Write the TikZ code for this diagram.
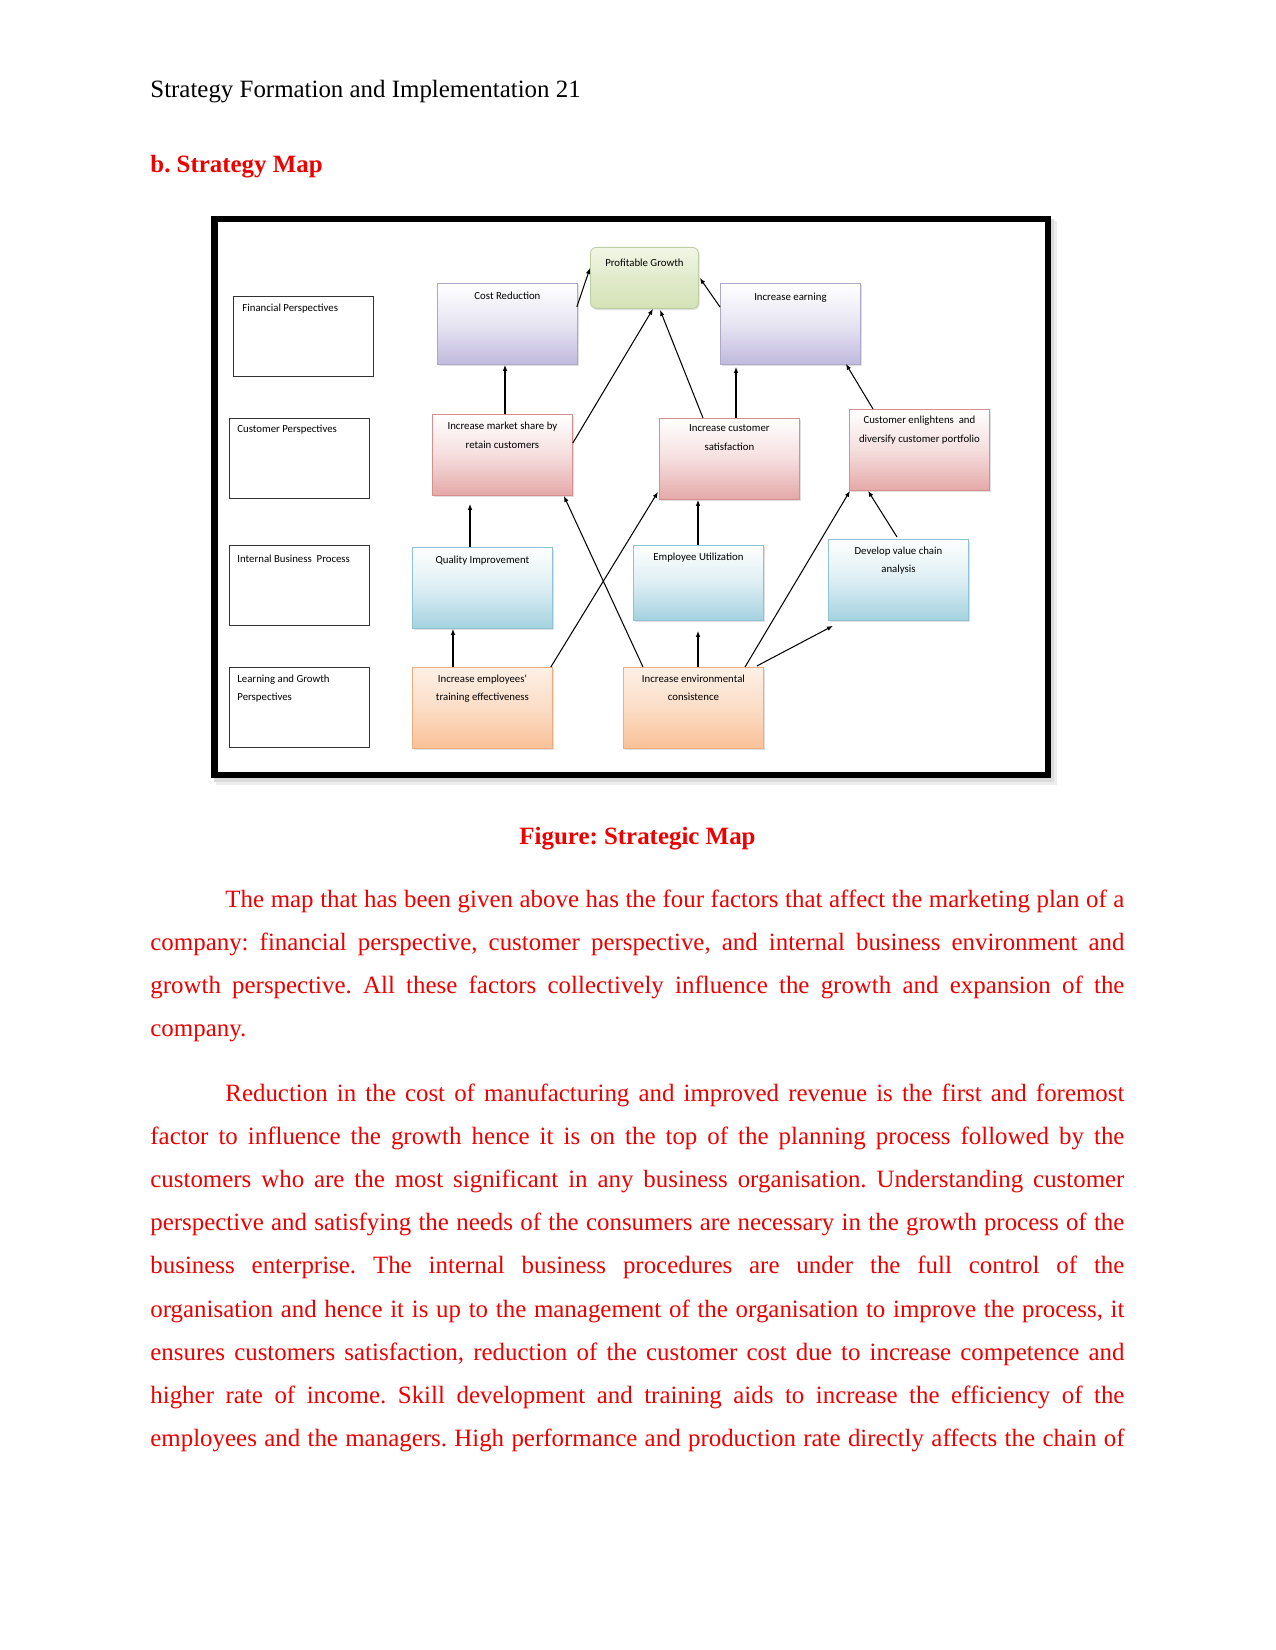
\documentclass[tikz,border=0pt]{standalone}
\usepackage{fontspec}
\setmainfont{Liberation Serif}
\newfontfamily\boxfont{Carlito}
\usepackage{xcolor}
\usetikzlibrary{arrows.meta, positioning, calc, shadows}
\frenchspacing
\definecolor{docred}{RGB}{236,0,0}
\definecolor{finbot}{RGB}{192,185,221}
\definecolor{finedge}{RGB}{172,168,200}
\definecolor{cusbot}{RGB}{229,168,168}
\definecolor{cusedge}{RGB}{214,142,142}
\definecolor{ibpbot}{RGB}{164,210,224}
\definecolor{ibpedge}{RGB}{140,196,212}
\definecolor{lgtop}{RGB}{253,240,230}
\definecolor{lgbot}{RGB}{249,193,152}
\definecolor{lgedge}{RGB}{240,172,124}
\definecolor{pgtop}{RGB}{242,246,230}
\definecolor{pgbot}{RGB}{212,226,182}
\definecolor{pgedge}{RGB}{190,205,162}
\newdimen\pxu \pxu=0.4818pt
\newcommand{\twol}[2]{\parbox[t]{150\pxu}{\centering #1\\#2}}
\newcommand{\twoll}[2]{\parbox[t]{130\pxu}{\raggedright #1\\#2}}
\newcommand{\jline}[2]{\makebox[#1][s]{#2}}
\tikzset{
  persp/.style={rectangle, draw=black!80, line width=0.6pt, fill=white,
    minimum width=140\pxu, minimum height=80\pxu, anchor=north west, inner sep=0pt},
  mapbox/.style={rectangle, line width=0.4pt, minimum width=140\pxu,
    minimum height=81\pxu, anchor=north west, inner sep=0pt,
    drop shadow={shadow xshift=1.2\pxu, shadow yshift=-1.6\pxu, opacity=0.25}},
  finB/.style={mapbox, draw=finedge, top color=white, bottom color=finbot, middle color=finbot!38},
  cusB/.style={mapbox, draw=cusedge, top color=white, bottom color=cusbot, middle color=cusbot!38},
  ibpB/.style={mapbox, draw=ibpedge, top color=white, bottom color=ibpbot, middle color=ibpbot!38},
  lgB/.style={mapbox, draw=lgedge, top color=lgtop, bottom color=lgbot, middle color=lgbot!55},
  pgB/.style={mapbox, draw=pgedge, top color=pgtop, bottom color=pgbot, middle color=pgbot!70,
    rounded corners=6\pxu, minimum width=108\pxu, minimum height=61\pxu},
  btxt/.style={anchor=base, inner sep=0pt, text=black,
    font=\boxfont\fontsize{5.2}{8.8}\selectfont},
  ptxt/.style={btxt, anchor=base west},
  arr/.style={-{Latex[length=2.9pt, width=2.2pt]}, line width=0.5pt},
  pagetxt/.style={anchor=base west, inner sep=0pt, font=\fontsize{12}{14}\selectfont},
  redbold/.style={inner sep=0pt, text=docred, font=\fontsize{12}{14}\selectfont\bfseries},
  bodyline/.style={pagetxt, text=docred},
}
\begin{document}
\begin{tikzpicture}[x=1\pxu, y=-1\pxu]
  \fill[white] (0,0) rectangle (1275,1650);
  \useasboundingbox (0,0) rectangle (1275,1650);

  % ---- Page heading ----
  \node[pagetxt] (head) at (150,98) {Strategy Formation and Implementation 21};
  \node[redbold, anchor=base west] (sect) at (150,173) {b. Strategy Map};

  % ---- Figure frame ----
  \fill[black!7] (216,221) rectangle (1057,785);
  \fill[black!14] (214,219) rectangle (1054,782);
  \draw[line width=6.5\pxu, fill=white] (214.25,219.25) rectangle (1047.75,774.75);

  % ---- Perspective labels ----
  \node[persp] (finp) at (233,296) {};
  \node[persp] (cusp) at (229,418) {};
  \node[persp] (ibp)  at (229,545) {};
  \node[persp] (lgp)  at (229,667) {};
  \node[ptxt] at ($(finp.north west)+(9,16)$) {Financial Perspectives};
  \node[ptxt] at ($(cusp.north west)+(8,15)$) {Customer Perspectives};
  \node[ptxt] at ($(ibp.north west)+(8,17)$) {Internal Business\ \ Process};
  \node[ptxt] at ($(lgp.north west)+(8,15)$) {\twoll{Learning and Growth}{Perspectives}};

  % ---- Financial row ----
  \node[pgB]  (pgro) at (590,247) {};
  \node[finB] (cost) at (437,283) {};
  \node[finB] (earn) at (720,283) {};
  \node[btxt] at ($(pgro.north)+(0,20)$) {Profitable Growth};
  \node[btxt] at ($(cost.north)+(0,17)$) {Cost Reduction};
  \node[btxt] at ($(earn.north)+(0,18)$) {Increase earning};

  % ---- Customer row ----
  \node[cusB] (mks)  at (432,414) {};
  \node[cusB] (csat) at (659,418) {};
  \node[cusB] (cenl) at (849,409) {};
  \node[btxt] at ($(mks.north)+(0,16)$)  {\twol{Increase market share by}{retain customers}};
  \node[btxt] at ($(csat.north)+(0,14)$) {\twol{Increase customer}{satisfaction}};
  \node[btxt] at ($(cenl.north)+(0,15)$) {\twol{Customer enlightens\ \ and}{diversify customer portfolio}};

  % ---- Internal row ----
  \node[ibpB] (qual) at (412,547) {};
  \node[ibpB, minimum width=130\pxu, minimum height=75\pxu] (empu) at (633,545) {};
  \node[ibpB] (dvc)  at (828,539) {};
  \node[btxt] at ($(qual.north)+(0,16)$) {Quality Improvement};
  \node[btxt] at ($(empu.north)+(0,15)$) {Employee Utilization};
  \node[btxt] at ($(dvc.north)+(0,15)$)  {\twol{Develop value chain}{analysis}};

  % ---- Learning row ----
  \node[lgB] (emtr) at (412,667) {};
  \node[lgB] (envc) at (623,667) {};
  \node[btxt] at ($(emtr.north)+(0,15)$) {\twol{Increase employees'}{training effectiveness}};
  \node[btxt] at ($(envc.north)+(0,15)$) {\twol{Increase environmental}{consistence}};

  % ---- Arrows ----
  \draw[arr] ($(mks.north west)+(73,0)$) coordinate (m1) -- (m1 |- cost.south);
  \draw[arr] ($(cost.north east)+(-1,24)$) -- ($(pgro.north west)+(0,21)$);
  \draw[arr] ($(mks.north east)+(0,29)$) -- ($(pgro.south west)+(63,0)$);
  \draw[arr] ($(csat.north west)+(44,0)$) -- ($(pgro.south west)+(70,1)$);
  \draw[arr] ($(earn.north west)+(0,24)$) -- ($(pgro.north east)+(1,31)$);
  \draw[arr] ($(csat.north west)+(77,0)$) coordinate (c1) -- ($(c1 |- earn.south)+(0,2)$);
  \draw[arr] ($(cenl.north west)+(24,0)$) -- ($(earn.south east)+(-15,-1)$);
  \draw[arr, shorten >=8\pxu] ($(qual.north west)+(58,0)$) coordinate (q1) -- (q1 |- mks.south);
  \draw[arr] ($(emtr.north west)+(41,0)$) coordinate (e1) -- (e1 |- qual.south);
  \draw[arr] ($(emtr.north east)+(-2,0)$) -- ($(csat.south west)+(-1,-8)$);
  \draw[arr] ($(envc.north west)+(20,0)$) -- ($(mks.south east)+(-9,0)$);
  \draw[arr] ($(empu.north west)+(65,0)$) coordinate (u1) -- (u1 |- csat.south);
  \draw[arr, shorten >=10\pxu] ($(envc.north west)+(75,0)$) coordinate (v1) -- (v1 |- empu.south);
  \draw[arr] ($(envc.north west)+(122,0)$) -- ($(cenl.south west)+(1,0)$);
  \draw[arr] ($(envc.north east)+(-7,-1)$) -- ($(dvc.south west)+(5,5)$);
  \draw[arr] ($(dvc.north west)+(69,-2)$) -- ($(cenl.south west)+(19,0)$);

  % ---- Caption ----
  \node[redbold, anchor=base] (cap) at (637.5,844) {Figure: Strategic Map};

  % ---- Body text ----
  \node[bodyline] (p1a) at (225,907)    {\jline{899\pxu}{The map that has been given above has the four factors that affect the marketing plan of a}};
  \node[bodyline] (p1b) at (150,950.2)  {\jline{974\pxu}{company: financial perspective, customer perspective, and internal business environment and}};
  \node[bodyline] (p1c) at (150,993.4)  {\jline{974\pxu}{growth perspective. All these factors collectively influence the growth and expansion of the}};
  \node[bodyline] (p1d) at (150,1036.6) {company.};

  \node[bodyline] (p2a) at (225,1101)   {\jline{899\pxu}{Reduction in the cost of manufacturing and improved revenue is the first and foremost}};
  \node[bodyline] (p2b) at (150,1144.2) {\jline{974\pxu}{factor to influence the growth hence it is on the top of the planning process followed by the}};
  \node[bodyline] (p2c) at (150,1187.4) {\jline{974\pxu}{customers who are the most significant in any business organisation. Understanding customer}};
  \node[bodyline] (p2d) at (150,1230.6) {\jline{974\pxu}{perspective and satisfying the needs of the consumers are necessary in the growth process of the}};
  \node[bodyline] (p2e) at (150,1273.8) {\jline{974\pxu}{business enterprise. The internal business procedures are under the full control of the}};
  \node[bodyline] (p2f) at (150,1317)   {\jline{974\pxu}{organisation and hence it is up to the management of the organisation to improve the process, it}};
  \node[bodyline] (p2g) at (150,1360.2) {\jline{974\pxu}{ensures customers satisfaction, reduction of the customer cost due to increase competence and}};
  \node[bodyline] (p2h) at (150,1403.4) {\jline{974\pxu}{higher rate of income. Skill development and training aids to increase the efficiency of the}};
  \node[bodyline] (p2i) at (150,1446.6) {\jline{974\pxu}{employees and the managers. High performance and production rate directly affects the chain of}};
\end{tikzpicture}
\end{document}
